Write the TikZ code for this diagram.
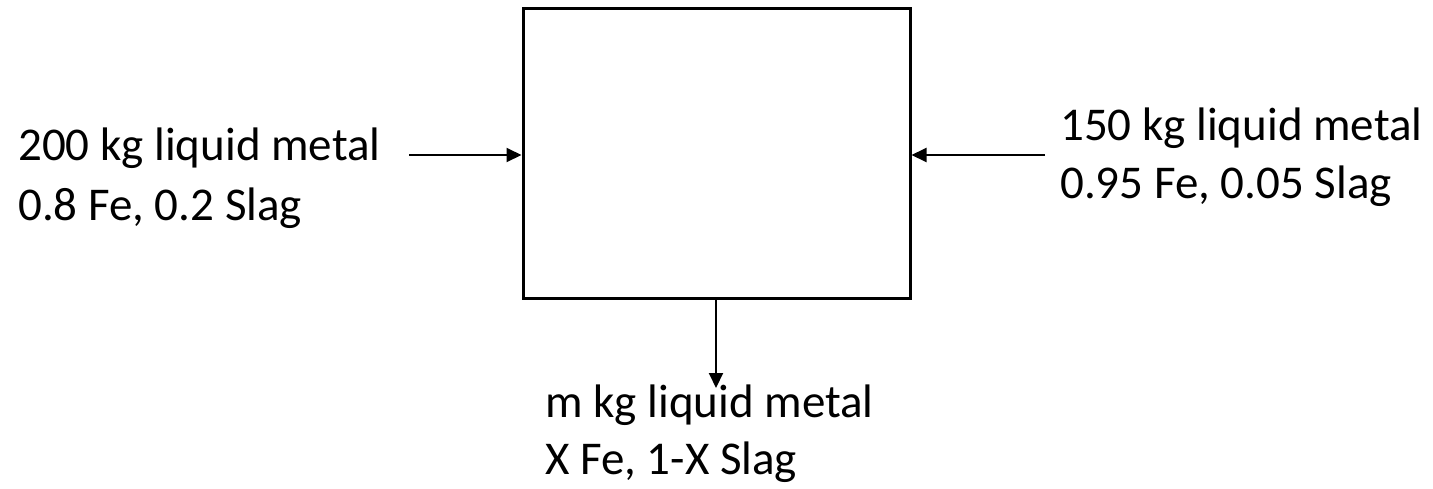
\documentclass[tikz,border=0pt]{standalone}
\usepackage{fontspec}
\setmainfont{Carlito}
\usetikzlibrary{arrows.meta}
\begin{document}
\begin{tikzpicture}[x=1pt,y=-1pt,
  lbl/.style={anchor=base west,inner sep=0pt,font=\fontsize{47}{56}\selectfont},
  flow/.style={line width=2pt,-{Triangle[length=15pt,width=14pt]}},
  unit/.style={draw,line width=3pt,minimum width=387pt,minimum height=290pt,inner sep=0pt}]
\useasboundingbox (0,0) rectangle (1433,488);
\node[unit] (box) at (716.5,153.5) {};
\coordinate (lin) at (409,155);
\coordinate (rin) at (1045,155);
\node[lbl] (l1) at (18,160) {200 kg liquid metal};
\node[lbl] (l2) at (18,220) {0.8 Fe, 0.2 Slag};
\node[lbl] (r1) at (1060,140) {150 kg liquid metal};
\node[lbl] (r2) at (1060,198) {0.95 Fe, 0.05 Slag};
\node[lbl] (b1) at (545,417) {m kg liquid metal};
\node[lbl] (b2) at (545,474) {X Fe, 1-X Slag};
\draw[flow] (lin) -- (lin -| box.west);
\draw[flow] (rin) -- (rin -| box.east);
\coordinate (bout) at (716,388);
\draw[flow] (bout |- box.south) -- (bout);
\end{tikzpicture}
\end{document}
